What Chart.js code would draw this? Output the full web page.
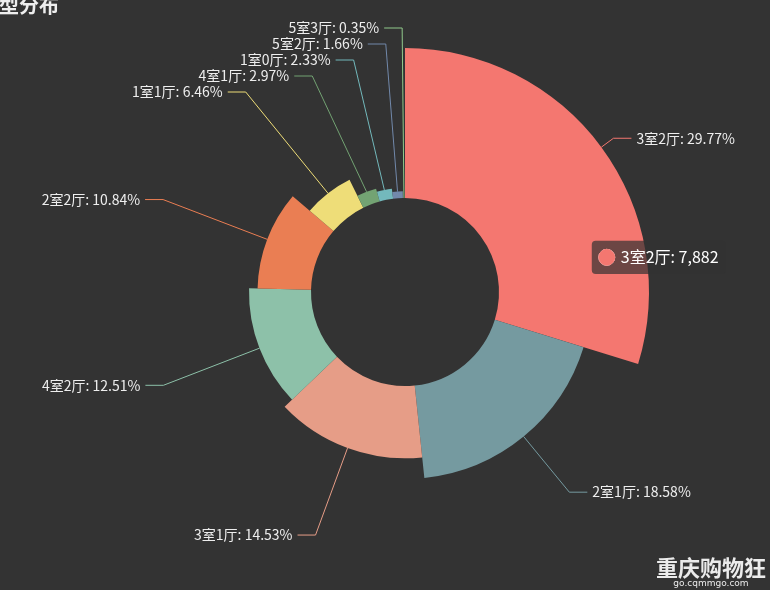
<!DOCTYPE html>
<html><head><meta charset="utf-8">
<script src="https://cdn.jsdelivr.net/npm/chart.js@4"></script>
<style>html,body{margin:0;background:#333;}#w{position:relative;width:770px;height:590px;overflow:hidden}
.t{position:absolute;left:-21px;top:-10px;color:#eee;font:bold 20px "Noto Sans CJK SC";}
.wm{position:absolute;right:4px;bottom:2px;color:#fff;text-align:center;font-family:"Noto Sans CJK SC";opacity:.9}
</style></head><body><div id="w"><canvas id="c" width="770" height="590"></canvas>
<div class="t">户型分布</div>
<div class="wm"><div style="font:bold 22px 'Noto Sans CJK SC';line-height:24px">重庆购物狂</div><div style="font:9px 'DejaVu Sans';line-height:10px">go.cqmmgo.com</div></div></div>
<script>
const categories=['3室2厅','2室1厅','3室1厅','4室2厅','2室2厅','1室1厅','4室1厅','1室0厅','5室2厅','5室3厅'];
const values=[7882,4919,3847,3312,2870,1710,786,617,440,93];
const colors=['#f47770','#759aa0','#e69d87','#8dc1a9','#ea7e53','#eedd78','#73a373','#73b9bc','#7289ab','#91ca8c'];
const R0=94,R1=244;
const total=values.reduce((a,b)=>a+b,0);
const vmin=Math.min(...values),vmax=Math.max(...values);
const rose={id:'rose',afterDatasetsUpdate(ch){
  ch.getDatasetMeta(0).data.forEach((el,i)=>{el.outerRadius=R0+(R1-R0)*(values[i]-vmin)/(vmax-vmin);el.innerRadius=R0;});
}};
const labels={id:'labels',afterDatasetsDraw(ch){
  const ctx=ch.ctx,arcs=ch.getDatasetMeta(0).data;
  const items=arcs.map((el,i)=>{const a=(el.startAngle+el.endAngle)/2;const c=Math.cos(a),s=Math.sin(a);
    const LR=R1+15;return {i,a,left:c<0.001&&a>Math.PI/2,p0:[el.x+c*el.outerRadius,el.y+s*el.outerRadius],b:[el.x+c*LR,el.y+s*LR]};});
  const left=items.filter(o=>o.left).sort((a,b)=>a.a-b.a);
  const G=16;
  for(let k=1;k<left.length;k++){if(left[k].b[1]>left[k-1].b[1]-G)left[k].b[1]=left[k-1].b[1]-G;}
  const n=left.length-1;if(left[n].b[1]<28){left[n].b[1]=28;for(let k=n-1;k>=0;k--){if(left[k].b[1]<left[k+1].b[1]+G)left[k].b[1]=left[k+1].b[1]+G;}}
  ctx.save();ctx.font='14px "Noto Sans CJK SC"';ctx.textBaseline='middle';
  items.forEach(o=>{const col=colors[o.i];const dir=o.left?-1:1;const e=[o.b[0]+dir*18,o.b[1]];
    ctx.strokeStyle=col;ctx.lineWidth=1;ctx.beginPath();ctx.moveTo(...o.p0);ctx.lineTo(...o.b);ctx.lineTo(...e);ctx.stroke();
    ctx.fillStyle='#eee';ctx.textAlign=o.left?'right':'left';
    ctx.fillText(categories[o.i]+': '+(values[o.i]/total*100).toFixed(2)+'%',e[0]+dir*5,e[1]);});
  ctx.restore();
}};
Chart.Tooltip.positioners.fixedPos=function(els){if(!els.length)return false;const el=els[0].element;
  const a=(el.startAngle+el.endAngle)/2+0.45;return {x:el.x+Math.cos(a)*188,y:el.y+Math.sin(a)*188};};
const ch=new Chart(document.getElementById('c'),{type:'doughnut',plugins:[rose,labels],
 data:{labels:categories,datasets:[{data:values,backgroundColor:colors,hoverBackgroundColor:colors,borderWidth:0,hoverOffset:0}]},
 options:{responsive:false,animation:false,radius:R1,cutout:R0,layout:{padding:{left:40,top:0,bottom:6}},
  plugins:{legend:{display:false},tooltip:{position:'fixedPos',xAlign:'left',yAlign:'center',backgroundColor:'rgba(50,50,50,0.7)',
   bodyFont:{size:16,family:'Noto Sans CJK SC'},bodyColor:'#fff',usePointStyle:true,boxPadding:4,padding:7,caretSize:0,cornerRadius:4,
   callbacks:{title:()=>'',label:c=>c.label+': '+c.parsed.toLocaleString('en-US'),labelPointStyle:()=>({pointStyle:'circle',rotation:0}),
   labelColor:c=>({borderColor:colors[c.dataIndex],backgroundColor:colors[c.dataIndex]})}}}}});
ch.tooltip.setActiveElements([{datasetIndex:0,index:0}],{x:600,y:250});ch.update();
</script></body></html>
